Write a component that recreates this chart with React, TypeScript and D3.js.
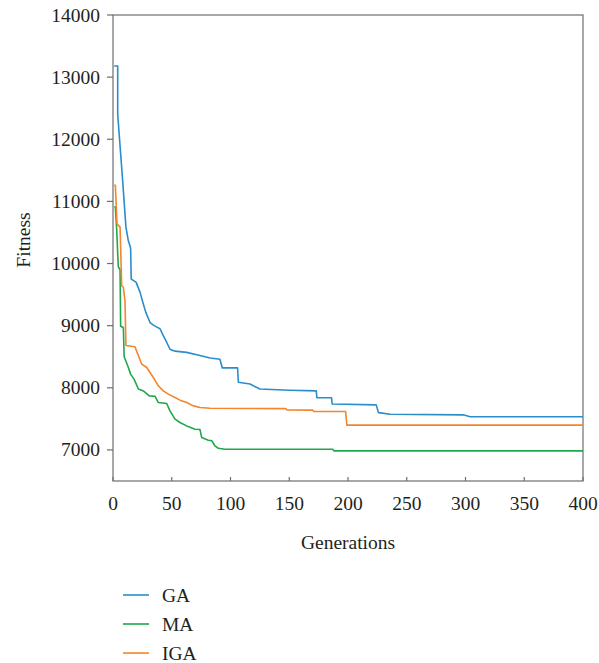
import React from 'react';
import * as d3 from 'd3';

// best fitness per generation as [generation, fitness] breakpoints
const gaGen = [1, 4, 4, 8, 11, 13, 15, 15.5, 19.6, 23, 25.8, 28, 31.5, 35, 40, 42.8, 45, 48.5, 52.8, 62.7, 74, 82.6, 91, 93, 106, 106.7, 116.6, 125, 150, 173, 173.5, 186, 186.5, 224, 226, 236, 298, 304, 400];
const gaFit = [13180, 13180, 12400, 11390, 10590, 10370, 10250, 9750, 9700, 9540, 9350, 9210, 9050, 9000, 8950, 8840, 8760, 8620, 8590, 8570, 8520, 8480, 8460, 8320, 8320, 8090, 8060, 7980, 7960, 7950, 7840, 7840, 7740, 7725, 7600, 7575, 7565, 7535, 7535];

const maGen = [1, 2, 3.1, 4.5, 6, 6.5, 8.8, 9.5, 13, 15, 17.9, 21.6, 25.8, 30.9, 35.7, 38.6, 45.7, 48.5, 52.8, 57, 62.7, 69.8, 74, 75.5, 81.1, 84, 86.8, 89.6, 95.3, 187, 188, 400];
const maFit = [10910, 10910, 10560, 9950, 9900, 8990, 8970, 8500, 8330, 8220, 8140, 7980, 7950, 7870, 7865, 7763, 7747, 7629, 7495, 7441, 7387, 7333, 7330, 7199, 7156, 7150, 7064, 7027, 7011, 7010, 6985, 6985];

const igaGen = [1, 2, 3.4, 5.7, 6, 7.4, 8.8, 10.2, 11, 18.7, 21.6, 24.4, 28.7, 31.5, 34.3, 38.6, 42.8, 47.1, 52.8, 57, 62.7, 68.4, 74, 82.6, 147, 148, 170, 171, 198, 199, 400];
const igaFit = [11260, 11260, 10640, 10590, 10590, 9645, 9618, 9400, 8680, 8660, 8516, 8382, 8327, 8247, 8166, 8032, 7951, 7898, 7843, 7801, 7763, 7709, 7682, 7672, 7665, 7642, 7640, 7618, 7618, 7400, 7400];

const xTicks = [0, 50, 100, 150, 200, 250, 300, 350, 400];
const yTicks = [7000, 8000, 9000, 10000, 11000, 12000, 13000, 14000];

const series = [
  { name: 'GA', gen: gaGen, fit: gaFit, color: '#2a8dcc' },
  { name: 'MA', gen: maGen, fit: maFit, color: '#1fa84b' },
  { name: 'IGA', gen: igaGen, fit: igaFit, color: '#f5852c' },
];

const W = 599;
const H = 663;
const left = 113;
const right = 583;
const top = 15;
const bottom = 481;
const font = '"Liberation Serif", "Times New Roman", serif';
const fs = 19.5;

export default function App() {
  const x = d3.scaleLinear().domain([0, 400]).range([left, right]);
  const y = d3.scaleLinear().domain([6500, 14000]).range([bottom, top]);

  const line = d3.line<[number, number]>()
    .x(d => x(d[0]))
    .y(d => y(d[1]));

  return (
    <svg width={W} height={H} style={{ position: 'absolute', left: 0, top: 0, background: '#fff' }}>
      {/* frame */}
      <rect x={left} y={top} width={right - left} height={bottom - top} fill="none" stroke="#6e6e6e" strokeWidth={1.2} />

      {/* y axis */}
      {yTicks.map(t => (
        <g key={t}>
          <line x1={left - 6} x2={left} y1={y(t)} y2={y(t)} stroke="#6e6e6e" strokeWidth={1.2} />
          <text x={left - 13} y={y(t) + 6.5} textAnchor="end" fontFamily={font} fontSize={fs} fill="#231f20">{t}</text>
        </g>
      ))}
      <text transform={`translate(${30},${240}) rotate(-90)`} textAnchor="middle" fontFamily={font} fontSize={fs} fill="#231f20">Fitness</text>

      {/* x axis */}
      {xTicks.map(t => (
        <g key={t}>
          <line x1={x(t)} x2={x(t)} y1={bottom - 4} y2={bottom} stroke="#6e6e6e" strokeWidth={1.2} />
          <text x={x(t)} y={bottom + 29} textAnchor="middle" fontFamily={font} fontSize={fs} fill="#231f20">{t}</text>
        </g>
      ))}
      <text x={(left + right) / 2} y={bottom + 68} textAnchor="middle" fontFamily={font} fontSize={fs} fill="#231f20">Generations</text>

      {/* curves */}
      {series.map(s => (
        <path
          key={s.name}
          d={line(s.gen.map((g, i) => [g, s.fit[i]] as [number, number])) || ''}
          fill="none"
          stroke={s.color}
          strokeWidth={1.6}
          strokeLinejoin="round"
        />
      ))}

      {/* legend */}
      {series.map((s, i) => (
        <g key={s.name} transform={`translate(0,${595 + i * 29})`}>
          <line x1={123} x2={149} y1={0} y2={0} stroke={s.color} strokeWidth={1.6} />
          <text x={162} y={6.5} fontFamily={font} fontSize={fs} fill="#231f20">{s.name}</text>
        </g>
      ))}
    </svg>
  );
}
